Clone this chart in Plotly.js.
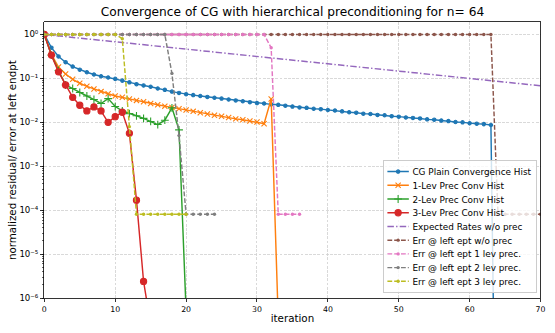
<!DOCTYPE html>
<html>
<head>
<meta charset="utf-8">
<script src="https://cdn.plot.ly/plotly-3.0.1.min.js"></script>
<style>
  html, body { margin: 0; padding: 0; background: #fff; }
  #wrap { width: 555px; height: 333px; overflow: hidden; position: relative; }
  #plot { transform-origin: 0 0; }
</style>
</head>
<body>
<div id="wrap"><div id="plot"></div></div>
<script>
// ---------------- data ----------------
const chartTitle = 'Convergence of CG with hierarchical preconditioning for n= 64';
const xLabel = 'iteration';
const yLabel = 'normalized residual/ error at left endpt';

const seriesNames = [
  'CG Plain Convergence Hist',
  '1-Lev Prec Conv Hist',
  '2-Lev Prec Conv Hist',
  '3-Lev Prec Conv Hist',
  'Expected Rates w/o prec',
  'Err @ left ept w/o prec',
  'Err @ left ept 1 lev prec.',
  'Err @ left ept 2 lev prec.',
  'Err @ left ept 3 lev prec.'
];

const cgPlain = [1, 0.501, 0.316, 0.234, 0.186, 0.158, 0.138, 0.123, 0.112, 0.105,
  0.0977, 0.0891, 0.0813, 0.0741, 0.0692, 0.0646, 0.0589, 0.0550, 0.0501, 0.0468,
  0.0437, 0.0417, 0.0398, 0.0380, 0.0363, 0.0347, 0.0331, 0.0316, 0.0302, 0.0288,
  0.0275, 0.0269, 0.0257, 0.0251, 0.0240, 0.0229, 0.0219, 0.0214, 0.0204, 0.0200,
  0.0191, 0.0186, 0.0178, 0.0170, 0.0166, 0.0158, 0.0155, 0.0148, 0.0145, 0.0138,
  0.0135, 0.0129, 0.0126, 0.0123, 0.0117, 0.0115, 0.0110, 0.0107, 0.0102, 0.0100,
  0.00955, 0.00933, 0.00912, 0.00871, 1e-14];

const lev1Prec = [1, 0.355, 0.182, 0.126, 0.0955, 0.0776, 0.0661, 0.0575, 0.0501, 0.0447,
  0.0398, 0.0372, 0.0339, 0.0316, 0.0295, 0.0269, 0.0251, 0.0234, 0.0219, 0.0204,
  0.0191, 0.0178, 0.0166, 0.0155, 0.0145, 0.0138, 0.0129, 0.0120, 0.0115, 0.0107,
  0.0102, 0.00930, 0.0340, 3.2e-7];

const lev2Prec = [1, 0.339, 0.151, 0.0708, 0.0589, 0.0479, 0.0398, 0.0331, 0.0269, 0.0347,
  0.0229, 0.0182, 0.0158, 0.0141, 0.0123, 0.0105, 0.00891, 0.0112, 0.0214, 0.00676,
  5.0e-7];

const lev3Prec = [1, 0.339, 0.141, 0.0708, 0.0372, 0.0245, 0.0182, 0.0224, 0.0182, 0.0100,
  0.0135, 0.0170, 0.00562, 1.70e-4, 2.40e-6, 2.5e-7];

const expectedIter = [0, 10, 20, 30, 40, 50, 60, 70];
const expectedRate = [1, 0.683, 0.467, 0.319, 0.218, 0.149, 0.100, 0.068];

const errNoPrec = [1, 1, 1, 1, 1, 1, 1, 1, 1, 1,
  1, 1, 1, 1, 1, 1, 1, 1, 1, 1,
  1, 1, 1, 1, 1, 1, 1, 1, 1, 1,
  1, 1, 1, 1, 1, 1, 1, 1, 1, 1,
  1, 1, 1, 1, 1, 1, 1, 1, 1, 1,
  1, 1, 1, 1, 1, 1, 1, 1, 1, 1,
  1, 1, 1, 1, 8.1e-5, 8.1e-5, 8.1e-5, 8.1e-5, 8.1e-5, 8.1e-5,
  8.1e-5];

const err1Lev = [1, 1, 1, 1, 1, 1, 1, 1, 1, 1,
  1, 1, 1, 1, 1, 1, 1, 1, 1, 1,
  1, 1, 1, 1, 1, 1, 1, 1, 1, 1,
  1, 1, 0.50, 8.1e-5, 8.1e-5, 8.1e-5, 8.1e-5];

const err2Lev = [1, 1, 1, 1, 1, 1, 1, 1, 1, 1,
  1, 1, 1, 1, 1, 1, 1, 1, 0.13, 0.005,
  8.1e-5, 8.1e-5, 8.1e-5, 8.1e-5, 8.1e-5];

const err3Lev = [1, 1, 1, 1, 1, 1, 1, 1, 1, 1,
  1, 0.80, 0.008, 8.1e-5, 8.1e-5, 8.1e-5, 8.1e-5, 8.1e-5, 8.1e-5, 8.1e-5,
  8.1e-5];

const xTickVals = [0, 10, 20, 30, 40, 50, 60, 70];
const yTickVals = [1e-6, 1e-5, 1e-4, 1e-3, 1e-2, 1e-1, 1];
const yTickText = ['10⁻⁶', '10⁻⁵', '10⁻⁴', '10⁻³', '10⁻²', '10⁻¹', '10⁰'];

// ---------------- styling ----------------
const S = 0.715;              // render scale (page is drawn larger, then shrunk)
const u = v => v / S;         // target pixels -> plot units
const W = 555 / S, H = 333 / S;
const plotDiv = document.getElementById('plot');
plotDiv.style.width = W + 'px';
plotDiv.style.height = H + 'px';
plotDiv.style.transform = 'scale(' + S + ')';

const FONT = 'DejaVu Sans, Liberation Sans, sans-serif';
const idx = arr => arr.map((_, i) => i);

const colors = ['#1f77b4', '#ff7f0e', '#2ca02c', '#d62728', '#9467bd',
                '#8c564b', '#e377c2', '#7f7f7f', '#bcbd22'];
const LW = u(1.45);
const errDash = u(4.8) + 'px,' + u(2.0) + 'px';

function solid(y, i, symbol, size) {
  return {
    x: idx(y), y: y, name: seriesNames[i], type: 'scatter', mode: 'lines+markers',
    line: { color: colors[i], width: LW },
    marker: { color: colors[i], symbol: symbol, size: size,
              line: { color: colors[i], width: u(1.1) } }
  };
}
function errTrace(y, i) {
  return {
    x: idx(y), y: y, name: seriesNames[i], type: 'scatter', mode: 'lines+markers',
    line: { color: colors[i], width: LW, dash: errDash },
    marker: { color: colors[i], symbol: 'circle', size: u(3.4), line: { width: 0 } }
  };
}

const traces = [
  solid(cgPlain, 0, 'circle', u(3.4)),
  solid(lev1Prec, 1, 'x-thin-open', u(5.2)),
  solid(lev2Prec, 2, 'cross-thin-open', u(5.6)),
  solid(lev3Prec, 3, 'circle', u(6.2)),
  {
    x: expectedIter, y: expectedRate, name: seriesNames[4], type: 'scatter', mode: 'lines',
    line: { color: colors[4], width: LW,
            dash: u(6.5) + 'px,' + u(2.2) + 'px,' + u(1.4) + 'px,' + u(2.2) + 'px' }
  },
  errTrace(errNoPrec, 5),
  errTrace(err1Lev, 6),
  errTrace(err2Lev, 7),
  errTrace(err3Lev, 8)
];

const plotL = 44, plotR = 541, plotT = 22, plotB = 298;
const axisCommon = {
  showline: true, linecolor: '#000', linewidth: u(0.8), mirror: true,
  ticks: 'outside', ticklen: u(3.5), tickwidth: u(0.8), tickcolor: '#000',
  tickfont: { family: FONT, size: u(7.8), color: '#000' },
  showgrid: true, gridcolor: '#d0d0d0', gridwidth: u(0.8),
  griddash: u(2.8) + 'px,' + u(1.4) + 'px',
  zeroline: false, automargin: false
};

const layout = {
  width: W, height: H,
  margin: { l: u(plotL), r: u(555 - plotR), t: u(plotT), b: u(333 - plotB), pad: 0 },
  paper_bgcolor: '#fff', plot_bgcolor: '#fff',
  font: { family: FONT, color: '#000' },
  title: {
    text: chartTitle, font: { family: FONT, size: u(12.2), color: '#000' },
    x: 0.5, xref: 'paper', xanchor: 'center',
    y: 1 - 12 / 333, yref: 'container', yanchor: 'middle'
  },
  xaxis: Object.assign({}, axisCommon, {
    range: [0, 70], tickmode: 'array', tickvals: xTickVals,
    title: { text: xLabel, font: { family: FONT, size: u(10.3), color: '#000' }, standoff: u(1) }
  }),
  yaxis: Object.assign({}, axisCommon, {
    type: 'log', range: [-6, 0.28], tickmode: 'array', tickvals: yTickVals, ticktext: yTickText,
    tickfont: { family: FONT, size: u(8.6), color: '#000' },
    minor: { ticks: 'outside', ticklen: u(2), tickwidth: u(0.6), tickcolor: '#000',
             dtick: 'D1', showgrid: false },
    title: { text: yLabel, font: { family: FONT, size: u(10.3), color: '#000' }, standoff: 0 }
  }),
  showlegend: true,
  legend: {
    x: (537 - plotL) / (plotR - plotL), xanchor: 'right',
    y: (plotB - 293) / (plotB - plotT), yanchor: 'bottom',
    bgcolor: 'rgba(255,255,255,0.8)', bordercolor: '#cccccc', borderwidth: u(1),
    font: { family: FONT, size: u(8.9), color: '#000' },
    itemwidth: 30, tracegroupgap: 0
  }
};

Plotly.newPlot(plotDiv, traces, layout, { displayModeBar: false, staticPlot: true });
</script>
</body>
</html>
